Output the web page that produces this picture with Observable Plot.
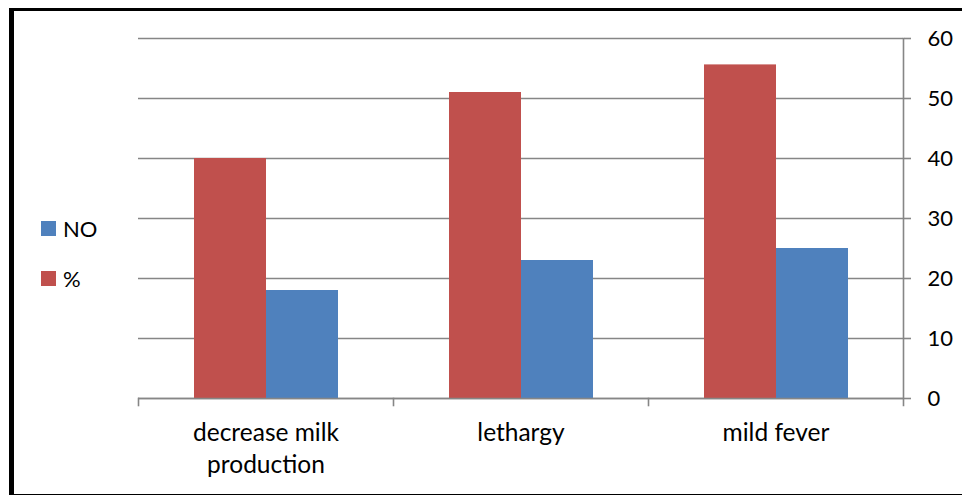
<!DOCTYPE html>
<html>
<head>
<meta charset="utf-8">
<script src="https://cdn.jsdelivr.net/npm/d3@7"></script>
<script src="https://cdn.jsdelivr.net/npm/@observablehq/plot@0.6"></script>
<style>
  html, body { margin: 0; padding: 0; background: #fff; overflow: hidden; }
  #wrap { position: relative; width: 962px; height: 495px; font-family: Lato, "Open Sans", sans-serif; }
  #frame { position: absolute; left: 9px; top: 8px; width: 980px; height: 483px;
           border-left: 5px solid #000; border-top: 3px solid #000; border-bottom: 2px solid #000; }
  #chart { position: absolute; left: 0; top: 0; }
  #legend { position: absolute; left: 41px; top: 214px; font-size: 22px; color: #000; }
  .item { display: flex; align-items: center; height: 28px; margin-bottom: 22px; }
  .sw { width: 15px; height: 15px; margin-right: 7px; }
</style>
</head>
<body>
<div id="wrap">
  <div id="frame"></div>
  <div id="chart"></div>
  <div id="legend"></div>
</div>
<script>
// Symptoms and the two series drawn for each
const categories = ["decrease milk production", "lethargy", "mild fever"];
const series = ["%", "NO"];
const percentValues = [40, 51, 55.6];
const countValues = [18, 23, 25];
const yTicks = [0, 10, 20, 30, 40, 50, 60];
const colors = ["#C0504D", "#4F81BD"];
const legendOrder = ["NO", "%"];

const rows = categories.flatMap((c, i) => [
  {category: c, series: "%", value: percentValues[i]},
  {category: c, series: "NO", value: countValues[i]}
]);

const W = 962, H = 495;
const mTop = 38, mBottom = 97, mLeft = 137, mRight = 58;
const plotH = H - mTop - mBottom;
const gray = "#868686";

const chart = Plot.plot({
  width: W,
  height: H,
  marginTop: mTop,
  marginBottom: mBottom,
  marginLeft: mLeft,
  marginRight: mRight,
  style: {fontFamily: "Lato, 'Open Sans', sans-serif", fontSize: "22px", color: "#000", background: "transparent"},
  fx: {domain: categories, padding: 0, label: null},
  x: {domain: series, paddingInner: 0, paddingOuter: 0.75, axis: null},
  y: {domain: [0, 60], axis: null},
  color: {domain: series, range: colors},
  marks: [
    Plot.gridY(yTicks, {stroke: gray, strokeOpacity: 1, strokeWidth: 1.6}),
    Plot.barY(rows, {fx: "category", x: "series", y: "value", fill: "series"}),
    Plot.ruleY([0], {stroke: gray, strokeWidth: 1.6}),
    // short ticks below the baseline at each category boundary
    Plot.frame({anchor: "left", stroke: gray, strokeWidth: 1.6, insetTop: plotH, insetBottom: -7}),
    // right value axis line
    Plot.frame({anchor: "right", facet: "super", stroke: gray, strokeWidth: 1.6, insetBottom: -7}),
    Plot.axisY(yTicks, {anchor: "right", tickSize: 7, tickPadding: 17, stroke: gray, strokeWidth: 1.6,
                        strokeOpacity: 1, fontSize: 22, fill: "#000", label: null}),
    Plot.axisFx({anchor: "bottom", tickSize: 0, tickPadding: 20, fontSize: 24.5, fill: "#000",
                 lineWidth: 9, lineHeight: 1.3, label: null})
  ]
});
document.getElementById("chart").appendChild(chart);

// legend to the left of the plot
const legend = d3.select("#legend");
for (const s of legendOrder) {
  const item = legend.append("div").attr("class", "item");
  item.append("div").attr("class", "sw").style("background", colors[series.indexOf(s)]);
  item.append("span").text(s);
}
</script>
</body>
</html>
